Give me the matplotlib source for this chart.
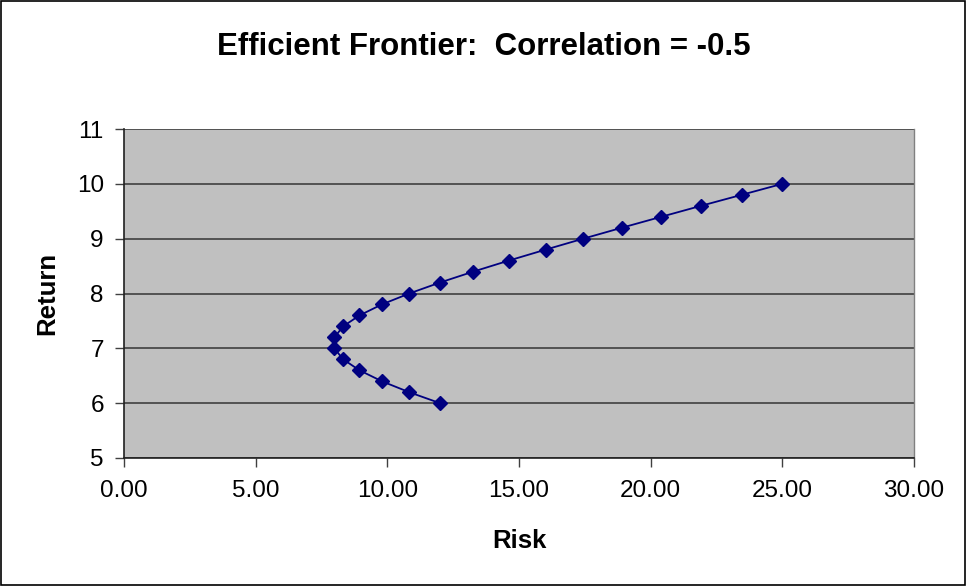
import matplotlib.pyplot as plt
from matplotlib.patches import Rectangle

# Portfolio risk / return points
risk = [12.00, 10.83, 9.79, 8.94, 8.32, 7.99, 7.99, 8.32, 8.94, 9.79, 10.83,
        12.00, 13.27, 14.61, 16.01, 17.44, 18.91, 20.41, 21.92, 23.46, 25.00]
ret = [6.0, 6.2, 6.4, 6.6, 6.8, 7.0, 7.2, 7.4, 7.6, 7.8, 8.0,
       8.2, 8.4, 8.6, 8.8, 9.0, 9.2, 9.4, 9.6, 9.8, 10.0]
x_ticks = [0, 5, 10, 15, 20, 25, 30]
y_ticks = [5, 6, 7, 8, 9, 10, 11]

plt.rcParams['font.family'] = ['Liberation Sans', 'DejaVu Sans']

fig = plt.figure(figsize=(9.67, 5.86), dpi=100)
ax = fig.add_axes([124 / 967, 1 - 458 / 586, (914 - 124) / 967, (458 - 129) / 586])

# outer chart border
fig.patches.append(Rectangle((0.001, 0.002), 0.997, 0.996, transform=fig.transFigure,
                             fill=False, edgecolor='black', linewidth=1.2))

ax.set_facecolor('#C0C0C0')
ax.plot(risk, ret, color='#000080', linewidth=1.3, marker='D', markersize=7,
        markerfacecolor='#000080', markeredgecolor='#000080', zorder=3)

ax.set_xlim(0, 30)
ax.set_ylim(5, 11)
ax.set_xticks(x_ticks)
ax.set_xticklabels([f"{v:.2f}" for v in x_ticks])
ax.set_yticks(y_ticks)
ax.yaxis.grid(True, color='#404040', linewidth=1.2)
ax.set_axisbelow(True)

ax.spines['top'].set_visible(False)
ax.spines['right'].set_color('#808080')
ax.spines['right'].set_linewidth(1.0)
for s in ('left', 'bottom'):
    ax.spines[s].set_color('#202020')
    ax.spines[s].set_linewidth(1.2)

ax.tick_params(axis='both', labelsize=17.5, length=6.5, width=1.0, color='#404040', direction='out')
ax.tick_params(axis='x', pad=9)
ax.tick_params(axis='y', pad=8)

ax.set_xlabel('Risk', fontsize=18.5, fontweight='bold', va='center')
ax.xaxis.set_label_coords(0.5, (458 - 541) / 329)
ax.set_ylabel('Return', fontsize=18.5, fontweight='bold', va='center')
ax.yaxis.set_label_coords((47 - 124) / 790, 0.5)
fig.text(0.5, 1 - 47 / 586, 'Efficient Frontier:  Correlation = -0.5', ha='center', va='center',
         fontsize=22.5, fontweight='bold')

fig.savefig('out.png', dpi=100)
